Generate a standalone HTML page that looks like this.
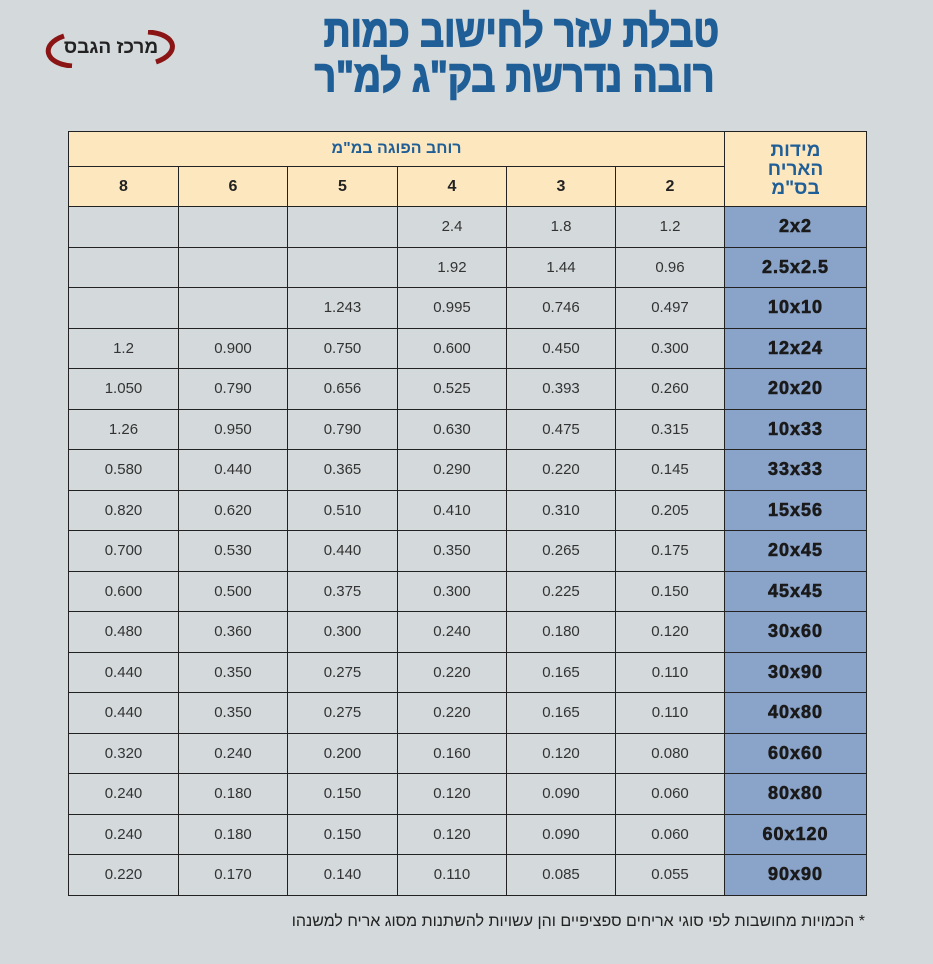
<!DOCTYPE html>
<html><head><meta charset="utf-8"><style>
body{margin:0;width:933px;height:964px;background:#d4d9db;position:relative;overflow:hidden;font-family:"Liberation Sans","DejaVu Sans",sans-serif;}
.t{position:absolute;color:#1f5e96;font-weight:bold;font-size:44px;line-height:44px;white-space:nowrap;direction:rtl;transform-origin:right center;-webkit-text-stroke:1.5px #1f5e96;}
table{position:absolute;left:68px;top:131px;border-collapse:collapse;table-layout:fixed;}
td{border:1px solid #222;text-align:center;font-size:15px;color:#333;padding:0;}
td.h{background:#fde7bf;color:#1f5e96;font-weight:bold;font-size:16px;}
td.n{background:#fde7bf;color:#222;font-weight:bold;font-size:16px;}
td.b{background:#8aa3c9;color:#1a1a1a;font-weight:900;font-size:18px;letter-spacing:1px;-webkit-text-stroke:0.6px #1a1a1a;}
tr.d td{height:39.5px;}
</style></head><body>
<div style="position:absolute;left:40px;top:30px;width:140px;height:38px;">
<svg width="140" height="38" viewBox="0 0 140 38"><path d="M32 36 C4 34 0 14 24 6" stroke="#8b1414" stroke-width="5" fill="none"/><path d="M108 2 C138 4 140 24 116 32" stroke="#8b1414" stroke-width="5" fill="none"/></svg>
<div style="position:absolute;left:14px;top:7px;width:114px;text-align:center;font-weight:bold;font-size:19px;color:#222;direction:rtl;">מרכז הגבס</div></div>
<div class="t" style="right:214px;top:10px;transform:scaleX(0.85)">טבלת עזר לחישוב כמות</div>
<div class="t" style="right:218px;top:55px;transform:scaleX(0.85)">רובה נדרשת בק"ג למ"ר</div>
<table>
<colgroup><col style="width:110px"><col style="width:109px"><col style="width:110px"><col style="width:109px"><col style="width:109px"><col style="width:109px"><col style="width:142px"></colgroup>
<tr><td class="h" colspan="6" style="height:34px">רוחב הפוגה במ"מ</td><td class="h" rowspan="2" style="font-size:19px;line-height:19px;">מידות<br>האריח<br>בס"מ</td></tr>
<tr><td class="n" style="height:39px">8</td><td class="n">6</td><td class="n">5</td><td class="n">4</td><td class="n">3</td><td class="n">2</td></tr>
<tr class="d"><td></td><td></td><td></td><td>2.4</td><td>1.8</td><td>1.2</td><td class="b">2x2</td></tr>
<tr class="d"><td></td><td></td><td></td><td>1.92</td><td>1.44</td><td>0.96</td><td class="b">2.5x2.5</td></tr>
<tr class="d"><td></td><td></td><td>1.243</td><td>0.995</td><td>0.746</td><td>0.497</td><td class="b">10x10</td></tr>
<tr class="d"><td>1.2</td><td>0.900</td><td>0.750</td><td>0.600</td><td>0.450</td><td>0.300</td><td class="b">12x24</td></tr>
<tr class="d"><td>1.050</td><td>0.790</td><td>0.656</td><td>0.525</td><td>0.393</td><td>0.260</td><td class="b">20x20</td></tr>
<tr class="d"><td>1.26</td><td>0.950</td><td>0.790</td><td>0.630</td><td>0.475</td><td>0.315</td><td class="b">10x33</td></tr>
<tr class="d"><td>0.580</td><td>0.440</td><td>0.365</td><td>0.290</td><td>0.220</td><td>0.145</td><td class="b">33x33</td></tr>
<tr class="d"><td>0.820</td><td>0.620</td><td>0.510</td><td>0.410</td><td>0.310</td><td>0.205</td><td class="b">15x56</td></tr>
<tr class="d"><td>0.700</td><td>0.530</td><td>0.440</td><td>0.350</td><td>0.265</td><td>0.175</td><td class="b">20x45</td></tr>
<tr class="d"><td>0.600</td><td>0.500</td><td>0.375</td><td>0.300</td><td>0.225</td><td>0.150</td><td class="b">45x45</td></tr>
<tr class="d"><td>0.480</td><td>0.360</td><td>0.300</td><td>0.240</td><td>0.180</td><td>0.120</td><td class="b">30x60</td></tr>
<tr class="d"><td>0.440</td><td>0.350</td><td>0.275</td><td>0.220</td><td>0.165</td><td>0.110</td><td class="b">30x90</td></tr>
<tr class="d"><td>0.440</td><td>0.350</td><td>0.275</td><td>0.220</td><td>0.165</td><td>0.110</td><td class="b">40x80</td></tr>
<tr class="d"><td>0.320</td><td>0.240</td><td>0.200</td><td>0.160</td><td>0.120</td><td>0.080</td><td class="b">60x60</td></tr>
<tr class="d"><td>0.240</td><td>0.180</td><td>0.150</td><td>0.120</td><td>0.090</td><td>0.060</td><td class="b">80x80</td></tr>
<tr class="d"><td>0.240</td><td>0.180</td><td>0.150</td><td>0.120</td><td>0.090</td><td>0.060</td><td class="b">60x120</td></tr>
<tr class="d"><td>0.220</td><td>0.170</td><td>0.140</td><td>0.110</td><td>0.085</td><td>0.055</td><td class="b">90x90</td></tr>
</table>
<div style="position:absolute;right:68px;top:913px;font-size:16px;color:#222;direction:rtl;white-space:nowrap;">* הכמויות מחושבות לפי סוגי אריחים ספציפיים והן עשויות להשתנות מסוג אריח למשנהו</div>
</body></html>
